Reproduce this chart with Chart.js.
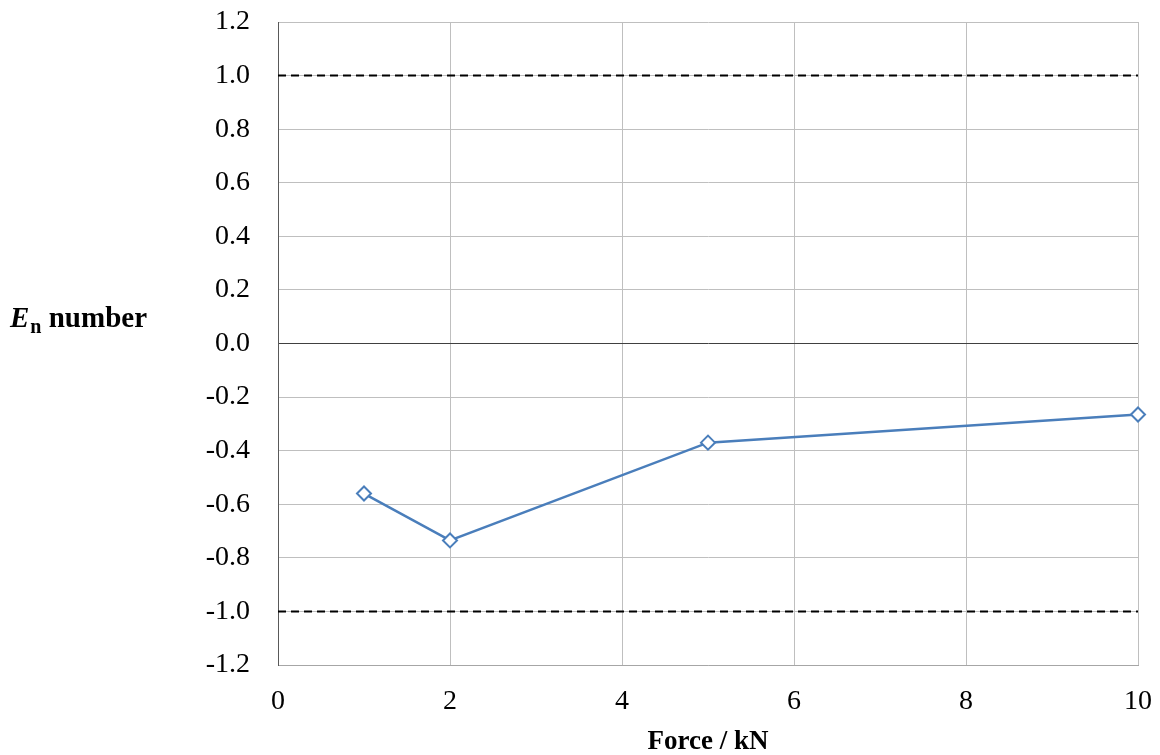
<!DOCTYPE html>
<html><head><meta charset="utf-8">
<script src="https://cdn.jsdelivr.net/npm/chart.js@4"></script>
<style>html,body{margin:0;padding:0;background:#fff}#wrap{width:1160px;height:755px}</style>
</head><body><div id="wrap"><canvas id="c" width="1160" height="755"></canvas></div>
<script>
const forceKN = [1, 2, 5, 10];
const enValues = [-0.56, -0.735, -0.37, -0.265];
const limitX = [0, 10];
const upperLimit = [1.0, 1.0];
const lowerLimit = [-1.0, -1.0];
const xTitle = 'Force / kN';
const yTitleParts = ['E', 'n', ' number'];

const FONT = "'Liberation Serif', 'DejaVu Serif', serif";

const yTitlePlugin = {
  id: 'yTitle',
  afterDraw(chart) {
    const ctx = chart.ctx;
    ctx.save();
    ctx.fillStyle = '#000';
    ctx.textBaseline = 'alphabetic';
    let x = 10, y = 327;
    ctx.font = "italic bold 29px " + FONT;
    ctx.fillText(yTitleParts[0], x, y);
    x += ctx.measureText(yTitleParts[0]).width + 1;
    ctx.font = "bold 20px " + FONT;
    ctx.fillText(yTitleParts[1], x, y + 6);
    x += ctx.measureText(yTitleParts[1]).width;
    ctx.font = "bold 29px " + FONT;
    ctx.fillText(yTitleParts[2], x, y);
    ctx.restore();
  }
};

new Chart(document.getElementById('c'), {
  type: 'scatter',
  data: {
    datasets: [
      {
        label: 'En',
        data: forceKN.map((f, i) => ({x: f, y: enValues[i]})),
        showLine: true,
        borderColor: '#4a7ebb',
        borderWidth: 2.5,
        pointStyle: 'rectRot',
        pointRadius: 7,
        pointBackgroundColor: '#ffffff',
        pointBorderColor: '#4a7ebb',
        pointBorderWidth: 2,
        clip: false,
        order: 0
      },
      {
        label: 'upper',
        data: limitX.map((f, i) => ({x: f, y: upperLimit[i]})),
        showLine: true,
        borderColor: '#000',
        borderWidth: 2,
        borderDash: [8, 5],
        pointRadius: 0,
        order: 1
      },
      {
        label: 'lower',
        data: limitX.map((f, i) => ({x: f, y: lowerLimit[i]})),
        showLine: true,
        borderColor: '#000',
        borderWidth: 2,
        borderDash: [8, 5],
        pointRadius: 0,
        order: 1
      }
    ]
  },
  options: {
    responsive: false,
    animation: false,
    layout: {padding: {left: 0, right: 22, top: 22, bottom: 0}},
    plugins: {legend: {display: false}, tooltip: {enabled: false}},
    scales: {
      x: {
        type: 'linear', min: 0, max: 10,
        ticks: {stepSize: 2, color: '#000', font: {family: FONT, size: 28}, padding: 20, maxRotation: 0},
        grid: {color: '#bfbfbf', lineWidth: 1, drawTicks: false},
        border: {color: '#a6a6a6', width: 1},
        title: {display: true, text: xTitle, color: '#000', font: {family: FONT, size: 27, weight: 'bold'}, padding: {top: 11, bottom: -3}},
        afterFit(s) { s.height = 90; s.paddingLeft = 0; s.paddingRight = 0; }
      },
      y: {
        type: 'linear', min: -1.2, max: 1.2,
        ticks: {stepSize: 0.2, color: '#000', font: {family: FONT, size: 28}, padding: 28,
          callback: v => v.toFixed(1)},
        grid: {color: ctx => (Math.abs(ctx.tick.value) < 1e-9 ? '#404040' : '#bfbfbf'), lineWidth: 1, drawTicks: false},
        border: {color: '#595959', width: 1},
        afterFit(s) { s.width = 278; s.paddingTop = 0; s.paddingBottom = 0; }
      }
    }
  },
  plugins: [yTitlePlugin]
});
</script>
</body></html>
